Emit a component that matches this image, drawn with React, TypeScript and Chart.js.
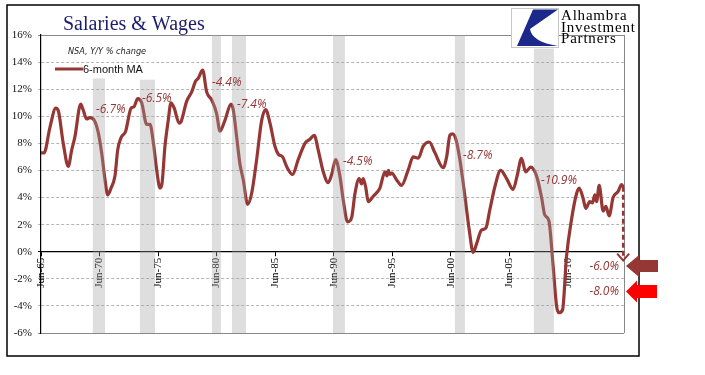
import React, { useEffect, useRef } from 'react';
import { Chart, registerables } from 'chart.js';

Chart.register(...registerables);

// ---- data (decimal years, Y/Y % change, 6-month MA) ----
const dates = [
  1965.5, 1965.76, 1966.27, 1966.76, 1966.98, 1967.4, 1967.83, 1968.12, 1968.4, 1968.89,
  1969.09, 1969.4, 1969.68, 1970.05, 1970.39, 1970.68, 1970.97, 1971.2, 1971.48, 1971.82,
  1972.05, 1972.33, 1972.73, 1973.19, 1973.44, 1973.76, 1974.1, 1974.53, 1974.81, 1975.09,
  1975.38, 1975.66, 1975.83, 1976.09, 1976.37, 1976.6, 1976.88, 1977.29, 1977.46, 1977.94,
  1978.37, 1978.71, 1978.93, 1979.31, 1979.65, 1980.08, 1980.5, 1980.79, 1981.21, 1981.73,
  1981.92, 1982.21, 1982.49, 1982.78, 1983.15, 1983.49, 1983.92, 1984.35, 1984.69, 1985.06,
  1985.48, 1985.77, 1986.14, 1986.48, 1986.99, 1987.47, 1988.05, 1988.47, 1988.84, 1989.18,
  1989.61, 1990.03, 1990.33, 1990.67, 1991.03, 1991.32, 1991.69, 1992.03, 1992.32, 1992.68,
  1992.89, 1993.02, 1993.25, 1993.45, 1993.88, 1994.45, 1994.88, 1995.05, 1995.18, 1995.3,
  1995.47, 1995.88, 1996.3, 1996.87, 1997.29, 1997.72, 1998.15, 1998.66, 1999.15, 1999.86,
  2000.15, 2000.43, 2000.66, 2000.94, 2001.28, 2001.71, 2002.08, 2002.42, 2002.71, 2003.13,
  2003.5, 2003.84, 2004.27, 2004.76, 2005.27, 2005.83, 2006.17, 2006.55, 2006.89, 2007.34,
  2007.83, 2008.26, 2008.54, 2008.88, 2009.25, 2009.54, 2009.74, 2010.05, 2010.39, 2010.82,
  2011.25, 2011.47, 2011.79, 2012.04, 2012.38, 2012.6, 2012.81, 2012.96, 2013.18, 2013.52,
  2013.75, 2014.03, 2014.37, 2014.8, 2015.09, 2015.23,
];
const wageGrowth = [
  7.3, 7.3, 9.2, 10.6, 10.4, 8.0, 6.3, 7.5, 8.5, 10.9,
  10.5, 9.8, 9.9, 9.7, 8.8, 7.3, 5.3, 4.2, 4.7, 5.6,
  7.5, 8.4, 8.9, 10.6, 10.7, 11.3, 11.0, 9.4, 9.4, 8.1,
  6.05, 4.7, 5.0, 7.8, 9.7, 11.0, 10.6, 9.5, 9.6, 11.1,
  11.8, 12.6, 12.8, 13.4, 11.8, 11.2, 10.2, 8.9, 9.7, 10.9,
  10.5, 8.5, 6.5, 5.3, 3.5, 4.3, 6.8, 9.7, 10.5, 9.5,
  7.8, 7.2, 7.0, 6.3, 5.7, 6.8, 8.0, 8.3, 8.6, 7.5,
  5.9, 5.1, 5.7, 6.8, 5.6, 3.8, 2.2, 2.5, 4.3, 5.4,
  5.0, 5.4, 4.7, 3.7, 4.1, 4.7, 5.9, 5.6, 6.0, 5.7,
  5.8, 5.3, 4.9, 6.05, 7.0, 6.9, 7.8, 8.1, 7.3, 6.2,
  7.0, 8.6, 8.7, 8.3, 6.8, 4.1, 1.6, -0.05, 0.6, 1.6,
  1.75, 3.1, 4.8, 6.0, 5.4, 4.6, 5.6, 6.9, 5.9, 6.25,
  5.6, 4.0, 2.7, 2.3, -1.1, -4.0, -4.5, -4.3, -0.35, 2.4,
  4.3, 4.7, 4.0, 3.2, 3.7, 3.6, 4.2, 3.7, 4.9, 3.0,
  3.35, 2.65, 4.0, 4.45, 4.95, 4.8,
];

// recessions (decimal years) and the top of each shaded band (%)
const recessionStart = [1969.92, 1973.95, 1980.1, 1981.81, 1990.44, 2000.86, 2007.6];
const recessionEnd = [1970.97, 1975.24, 1980.87, 1983.01, 1991.46, 2001.71, 2009.31];
const recessionTop = [12.8, 12.7, 16, 16, 16, 16, 15.0];

// drop annotations: text, anchor year, anchor value
const dropLabels = ['-6.7%', '-6.5%', '-4.4%', '-7.4%', '-4.5%', '-8.7%', '-10.9%'];
const dropLabelYear = [1970.2, 1974.13, 1980.1, 1982.24, 1991.29, 2001.54, 2008.2];
const dropLabelValue = [10.48, 11.29, 12.51, 10.85, 6.64, 7.12, 5.28];

// projected drops at the right edge
const projectionLabels = ['-6.0%', '-8.0%'];
const projectionLevels = [-1.06, -2.93];
const projectionColors = ['#953735', '#ff0000'];
const arrowTipValue = -0.65;

// axis ticks
const xTickYears = [1965.5, 1970.5, 1975.5, 1980.5, 1985.5, 1990.5, 1995.5, 2000.5, 2005.5, 2010.5];
const xTickLabels = ['Jun-65', 'Jun-70', 'Jun-75', 'Jun-80', 'Jun-85', 'Jun-90', 'Jun-95', 'Jun-00', 'Jun-05', 'Jun-10'];

const LINE = '#953735';
const SERIF = '"Liberation Serif", "Times New Roman", serif';
const SANS = '"Liberation Sans", Arial, sans-serif';

function blockArrow(ctx: CanvasRenderingContext2D, tipX: number, tipY: number, headLen: number,
  headHalf: number, tailX: number, shaftHalf: number, color: string) {
  ctx.beginPath();
  ctx.moveTo(tipX, tipY);
  ctx.lineTo(tipX + headLen, tipY - headHalf);
  ctx.lineTo(tipX + headLen, tipY - shaftHalf);
  ctx.lineTo(tailX, tipY - shaftHalf);
  ctx.lineTo(tailX, tipY + shaftHalf);
  ctx.lineTo(tipX + headLen, tipY + shaftHalf);
  ctx.lineTo(tipX + headLen, tipY + headHalf);
  ctx.closePath();
  ctx.fillStyle = color;
  ctx.fill();
}

export default function App() {
  const ref = useRef<HTMLCanvasElement>(null);

  useEffect(() => {
    const canvas = ref.current;
    if (!canvas) return;

    const overlay = {
      id: 'overlay',
      afterDatasetsDraw(chart: any) {
        const { ctx, chartArea: ca } = chart;
        const x = chart.scales.x;
        const y = chart.scales.y;
        ctx.save();
        // recession bands (drawn over the line, translucent)
        ctx.fillStyle = 'rgba(160,160,160,0.35)';
        recessionStart.forEach((s, i) => {
          const x0 = x.getPixelForValue(s);
          const x1 = x.getPixelForValue(recessionEnd[i]);
          const yt = y.getPixelForValue(recessionTop[i]);
          ctx.fillRect(x0, yt, x1 - x0, ca.bottom - yt);
        });
        // right border of plot area
        ctx.strokeStyle = '#888';
        ctx.lineWidth = 1;
        ctx.beginPath();
        ctx.moveTo(ca.right + 0.5, ca.top);
        ctx.lineTo(ca.right + 0.5, ca.bottom);
        ctx.stroke();

        // drop labels
        ctx.font = 'italic 12px "Open Sans", "DejaVu Sans", sans-serif';
        ctx.fillStyle = LINE;
        ctx.textBaseline = 'middle';
        ctx.textAlign = 'left';
        dropLabels.forEach((t, i) => {
          ctx.fillText(t, x.getPixelForValue(dropLabelYear[i]), y.getPixelForValue(dropLabelValue[i]));
        });
        ctx.textAlign = 'right';
        projectionLabels.forEach((t, i) => {
          ctx.fillText(t, ca.right - 5, y.getPixelForValue(projectionLevels[i]));
        });

        // dashed arrow from latest value down
        const last = dates.length - 1;
        const xe = x.getPixelForValue(dates[last]);
        const ys = y.getPixelForValue(wageGrowth[last]);
        const yt = y.getPixelForValue(arrowTipValue);
        ctx.strokeStyle = LINE;
        ctx.lineWidth = 2.5;
        ctx.setLineDash([5, 3]);
        ctx.beginPath();
        ctx.moveTo(xe, ys);
        ctx.lineTo(xe, yt - 2);
        ctx.stroke();
        ctx.setLineDash([]);
        ctx.lineWidth = 2;
        ctx.beginPath();
        ctx.moveTo(xe - 6, yt - 7);
        ctx.lineTo(xe, yt);
        ctx.lineTo(xe + 6, yt - 7);
        ctx.stroke();
        ctx.restore();
      },
      afterDraw(chart: any) {
        const { ctx, chartArea: ca } = chart;
        const y = chart.scales.y;
        ctx.save();
        // title
        ctx.textAlign = 'left';
        ctx.textBaseline = 'alphabetic';
        ctx.fillStyle = '#1c1c6e';
        ctx.font = `20px ${SERIF}`;
        ctx.fillText('Salaries & Wages', 63, 30);
        // subtitle
        ctx.fillStyle = '#222';
        ctx.font = 'italic 8.2px "DejaVu Sans", sans-serif';
        ctx.fillText('NSA, Y/Y % change', 68, 54);
        // legend
        ctx.strokeStyle = LINE;
        ctx.lineWidth = 3;
        ctx.beginPath();
        ctx.moveTo(55, 69);
        ctx.lineTo(83, 69);
        ctx.stroke();
        ctx.fillStyle = '#111';
        ctx.font = `11px ${SANS}`;
        ctx.fillText('6-month MA', 83, 73);

        // logo
        ctx.fillStyle = '#fff';
        ctx.fillRect(511, 8, 48, 40);
        ctx.strokeStyle = '#c8c8c8';
        ctx.lineWidth = 1;
        ctx.strokeRect(511.5, 8.5, 47, 39);
        ctx.fillStyle = '#1b2a8a';
        ctx.beginPath();
        ctx.moveTo(533, 9.5);
        ctx.lineTo(558, 9.5);
        ctx.lineTo(530, 29);
        ctx.quadraticCurveTo(532, 42, 558, 46);
        ctx.lineTo(517, 46);
        ctx.closePath();
        ctx.fill();
        ctx.fillStyle = '#000';
        ctx.font = `15px ${SERIF}`;
        (ctx as any).letterSpacing = '0.8px';
        ctx.fillText('Alhambra', 561, 20);
        ctx.fillText('Investment', 561, 31.5);
        ctx.fillText('Partners', 561, 43);
        (ctx as any).letterSpacing = '0px';

        // outer frame
        ctx.strokeStyle = '#000';
        ctx.lineWidth = 1.5;
        ctx.strokeRect(7, 5, 632, 351);

        // block arrows at right
        blockArrow(ctx, ca.right + 2, y.getPixelForValue(projectionLevels[0]), 13, 11, ca.right + 34, 6, projectionColors[0]);
        blockArrow(ctx, ca.right + 2, y.getPixelForValue(projectionLevels[1]), 11, 11, ca.right + 33, 6.5, projectionColors[1]);
        ctx.restore();
      },
    };

    const isFrame = (v: number) => v === 16 || v === -6;

    const chart = new Chart(canvas, {
      type: 'line',
      data: {
        datasets: [
          {
            label: '6-month MA',
            data: dates.map((d, i) => ({ x: d, y: wageGrowth[i] })),
            borderColor: LINE,
            borderWidth: 3.2,
            pointRadius: 0,
            cubicInterpolationMode: 'monotone',
            fill: false,
            borderJoinStyle: 'round',
            borderCapStyle: 'round',
          },
        ],
      },
      options: {
        responsive: false,
        animation: false,
        devicePixelRatio: 1,
        layout: { padding: { left: 0, top: 35, right: 81, bottom: 42 } },
        plugins: {
          legend: { display: false },
          tooltip: { enabled: false },
          title: { display: false },
        },
        scales: {
          x: {
            type: 'linear',
            position: { y: 0 } as any,
            min: 1965.5,
            max: 2015.3,
            afterBuildTicks: (s: any) => {
              s.ticks = xTickYears.map((v) => ({ value: v }));
            },
            ticks: {
              autoSkip: false,
              minRotation: 90,
              maxRotation: 90,
              padding: 2,
              color: '#000',
              font: { family: SERIF, size: 11 },
              callback: (_v: any, i: number) => xTickLabels[i],
            },
            grid: { display: true, drawOnChartArea: false, drawTicks: true, tickLength: 4, color: '#000' },
            border: { display: true, color: '#000', width: 1.2 },
          },
          y: {
            min: -6,
            max: 16,
            afterFit: (s: any) => {
              s.width = 41;
            },
            ticks: {
              stepSize: 2,
              padding: 6,
              color: '#111',
              font: { family: SERIF, size: 11 },
              callback: (v: any) => `${v}%`,
            },
            grid: {
              tickLength: 3,
              lineWidth: 1,
              color: (c: any) => {
                const v = c.tick ? c.tick.value : 1;
                if (v === 0) return '#000';
                if (isFrame(v)) return '#888';
                return '#b5b5b5';
              },
            },
            border: {
              color: '#000',
              width: 1.2,
              dash: (c: any) => {
                const v = c.tick ? c.tick.value : 1;
                return v === 0 || isFrame(v) ? [] : [3, 2];
              },
            } as any,
          },
        },
      },
      plugins: [overlay],
    } as any);

    return () => chart.destroy();
  }, []);

  return (
    <div style={{ position: 'absolute', left: 0, top: 0, width: 705, height: 375, background: '#fff' }}>
      <canvas ref={ref} width={705} height={375} style={{ display: 'block', width: 705, height: 375 }} />
    </div>
  );
}
